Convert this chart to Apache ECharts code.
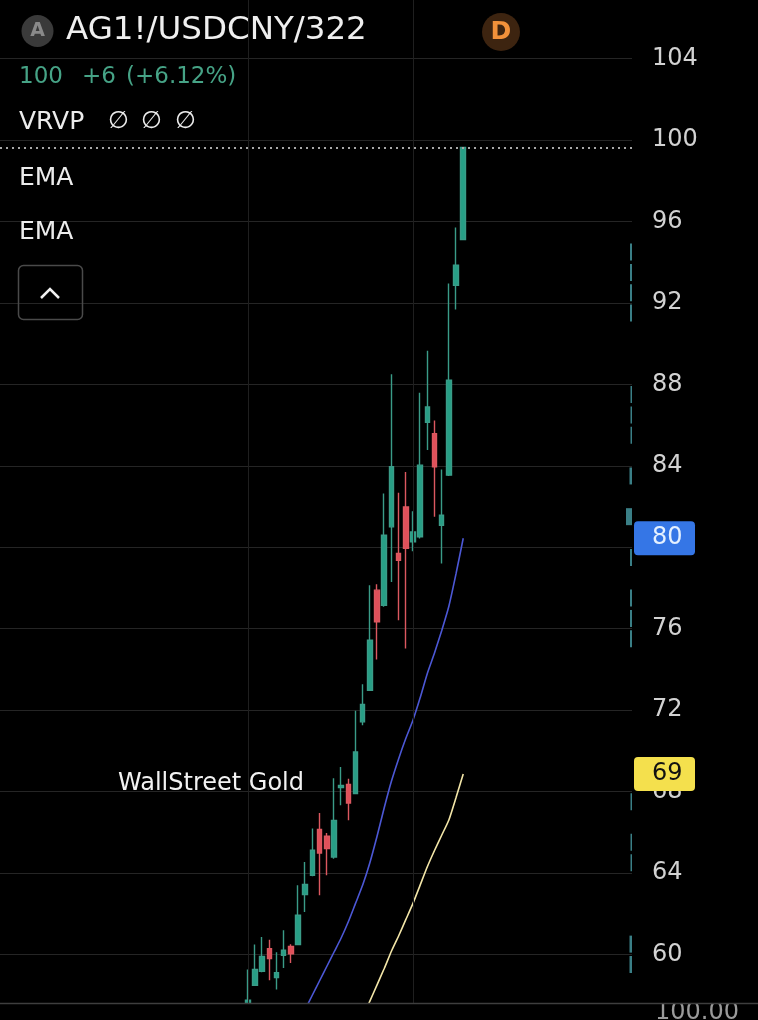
<!DOCTYPE html>
<html>
<head>
<meta charset="utf-8">
<script src="https://cdn.jsdelivr.net/npm/echarts@6/dist/echarts.min.js"></script>
<style>
html,body{margin:0;padding:0;background:#000;}
#chart{width:758px;height:1020px;}
</style>
</head>
<body>
<div id="chart"></div>
<script>
// ---------- DATA ----------
// candles: [open, close, low, high]
const candleOHLC = [
  [57.54, 57.74, 57.30, 59.25],
  [58.48, 59.25, 58.44, 60.48],
  [59.16, 59.90, 59.12, 60.85],
  [60.28, 59.79, 58.72, 60.72],
  [58.86, 59.10, 58.27, 60.10],
  [59.95, 60.20, 59.33, 61.18],
  [60.39, 60.03, 59.57, 60.49],
  [60.48, 61.92, 60.45, 63.39],
  [62.93, 63.43, 62.08, 64.54],
  [63.88, 65.11, 63.83, 66.18],
  [66.13, 64.98, 62.90, 66.94],
  [65.80, 65.19, 63.88, 65.96],
  [64.78, 66.58, 64.70, 68.65],
  [68.19, 68.30, 67.32, 69.20],
  [68.35, 67.43, 66.58, 68.63],
  [67.90, 69.94, 67.86, 71.96],
  [71.42, 72.27, 71.25, 73.27],
  [72.97, 75.43, 72.95, 78.13],
  [77.89, 76.33, 74.48, 78.18],
  [77.15, 80.59, 77.07, 82.64],
  [81.00, 83.95, 78.29, 88.50],
  [79.69, 79.36, 76.41, 82.67],
  [81.98, 79.94, 75.02, 83.69],
  [80.26, 80.75, 79.80, 81.77],
  [80.51, 84.03, 80.43, 87.59],
  [86.14, 86.89, 84.77, 89.65],
  [85.58, 83.95, 81.49, 86.22],
  [81.08, 81.57, 79.20, 83.82],
  [83.54, 88.21, 83.50, 92.96],
  [92.87, 93.86, 91.68, 95.71],
  [95.12, 99.64, 95.10, 99.67]
];
// fast EMA (blue), starting at candle 8
const emaFastStart = 8;
const emaFast = [57.3, 58.0, 58.7, 59.4, 60.1, 60.8, 61.6, 62.5, 63.4, 64.5, 65.8, 67.2,
                 68.5, 69.6, 70.6, 71.5, 72.6, 73.8, 74.8, 75.9, 77.1, 78.7, 80.44];
// slow EMA (yellow), starting at candle 16
const emaSlowStart = 16;
const emaSlow = [56.9, 57.7, 58.5, 59.3, 60.15, 60.9, 61.7, 62.5, 63.4, 64.3, 65.1,
                 65.85, 66.6, 67.7, 68.86];
// volume profile (VRVP) bins: price bin centre and bar length
const vrvpPrice = [59.5, 60.5, 64.5, 65.5, 67.5, 75.5, 76.5, 77.5, 79.5, 81.5, 83.5,
                   85.5, 86.5, 87.5, 91.5, 92.5, 93.5, 94.5];
const vrvpSize  = [2.5, 2.5, 1.5, 1.5, 1.5, 2, 2, 2, 2, 6, 2.5,
                   1.5, 1.5, 1.5, 2, 2, 2, 2];
// price axis
const priceMin = 56, priceMax = 108, priceStep = 4;
// header texts
const symbolText = 'AG1!/USDCNY/322';
const quoteParts = ['100', '+6', '(+6.12%)'];
const watermarkText = 'WallStreet Gold';
const lowerPaneLabel = '100.00';

// ---------- LAYOUT ----------
const slotCount = 88;          // category slots across the plot
const firstSlot = 34;          // slot of the first visible candle
const vGridSlots = [34, 57];   // vertical date gridlines
const GRID_TOP = -22.74, GRID_H = 1058.46, GRID_RIGHT = 126;
const FONT = '"DejaVu Sans", "Noto Sans", sans-serif';

const categories = Array.from({length: slotCount}, (_, i) => 'S' + (i + 1));
const candleData = candleOHLC.map((d, i) => [firstSlot + i, d[0], d[1], d[2], d[3]]);
const fastData = emaFast.map((v, i) => [firstSlot + emaFastStart + i, v]);
const slowData = emaSlow.map((v, i) => [firstSlot + emaSlowStart + i, v]);
const binLabels = [];
for (let p = priceMin; p < priceMax; p += 1) binLabels.push(String(p + 0.5));
const vrvpData = binLabels.map(() => null);
vrvpPrice.forEach((p, i) => { vrvpData[Math.floor(p) - priceMin] = vrvpSize[i]; });
const lastClose = candleOHLC[candleOHLC.length - 1][1];

const chart = echarts.init(document.getElementById('chart'), null, {renderer: 'canvas'});

function txt(id, text, x, y, size, fill, opts) {
  opts = opts || {};
  return {
    type: 'text', id: id, x: x, y: y, z: opts.z || 100,
    style: {
      text: text, fill: fill,
      font: (opts.weight || 'normal') + ' ' + size + 'px ' + FONT,
      align: opts.align || 'left', textAlign: opts.align || 'left',
      verticalAlign: opts.va || 'middle', textVerticalAlign: opts.va || 'middle'
    }
  };
}

const option = {
  backgroundColor: '#000',
  animation: false,
  grid: [
    {left: 0, right: GRID_RIGHT, top: GRID_TOP, height: GRID_H, containLabel: false, outerBoundsMode: 'none'},
    {left: 532, right: GRID_RIGHT, top: GRID_TOP, height: GRID_H, containLabel: false, outerBoundsMode: 'none'}
  ],
  xAxis: [
    {type: 'category', gridIndex: 0, data: categories, boundaryGap: true,
     axisLine: {show: false}, axisTick: {show: false}, axisLabel: {show: false}, splitLine: {show: false}},
    {type: 'value', gridIndex: 1, min: 0, max: 100, inverse: true, show: false}
  ],
  yAxis: [
    {type: 'value', gridIndex: 0, position: 'right', min: priceMin, max: priceMax, interval: priceStep,
     axisLine: {show: false}, axisTick: {show: false},
     axisLabel: {margin: 20, color: '#d2d2d2', fontSize: 24, fontFamily: FONT},
     splitLine: {show: true, lineStyle: {color: '#252525', width: 1}}},
    {type: 'category', gridIndex: 1, data: binLabels, show: false, boundaryGap: true}
  ],
  series: [
    {
      type: 'line', xAxisIndex: 0, yAxisIndex: 0, data: [], z: 1, silent: true,
      markLine: {
        silent: true, symbol: ['none', 'none'], label: {show: false},
        lineStyle: {color: '#1f1f1f', width: 1, type: 'solid'},
        data: vGridSlots.map(s => ({xAxis: s}))
      }
    },
    {
      type: 'bar', xAxisIndex: 1, yAxisIndex: 1, data: vrvpData, barWidth: 17, z: 2,
      itemStyle: {color: '#3a7f86'}
    },
    {
      type: 'candlestick', xAxisIndex: 0, yAxisIndex: 0, data: candleData, z: 3,
      encode: {x: 0, y: [1, 2, 3, 4]},
      barWidth: 5,
      itemStyle: {color: '#279f86', color0: '#e0505a', borderColor: '#3a9c88', borderColor0: '#dc5860', borderWidth: 1.4},
      markLine: {
        silent: true, symbol: ['none', 'none'], label: {show: false},
        lineStyle: {color: '#a8a8a8', width: 2, type: [2, 4]},
        data: [{yAxis: lastClose}]
      }
    },
    {
      type: 'line', xAxisIndex: 0, yAxisIndex: 0, data: fastData, showSymbol: false, smooth: 0.2, z: 4,
      lineStyle: {color: '#4c58d6', width: 1.6}
    },
    {
      type: 'line', xAxisIndex: 0, yAxisIndex: 0, data: slowData, showSymbol: false, smooth: 0.2, z: 4,
      lineStyle: {color: '#f3e6a8', width: 1.6}
    }
  ],
  graphic: [
    {type: 'circle', id: 'aCirc', z: 100, shape: {cx: 37.5, cy: 31, r: 16}, style: {fill: '#3a3a3a'}},
    txt('aTxt', 'A', 37.5, 31, 19, '#8a8a8a', {align: 'center', weight: 'bold'}),
    txt('sym', symbolText, 66, 31, 32.5, '#efefef'),
    {type: 'circle', id: 'dCirc', z: 100, shape: {cx: 501, cy: 32, r: 19}, style: {fill: '#3d2410'}},
    txt('dTxt', 'D', 501, 32, 25, '#f2913a', {align: 'center', weight: 'bold'}),
    txt('q1', quoteParts[0], 19, 77, 23, '#46a386'),
    txt('q2', quoteParts[1], 82, 77, 23, '#46a386'),
    txt('q3', quoteParts[2], 126, 77, 23, '#46a386'),
    txt('vrvp', 'VRVP', 19, 122, 25, '#ececec'),
    txt('o1', '\u2205', 108, 122, 24, '#ececec'),
    txt('o2', '\u2205', 141, 122, 24, '#ececec'),
    txt('o3', '\u2205', 175, 122, 24, '#ececec'),
    txt('ema1', 'EMA', 19, 178, 25, '#ececec'),
    txt('ema2', 'EMA', 19, 232, 25, '#ececec'),
    {type: 'rect', id: 'btn', z: 100, shape: {x: 18.5, y: 265.5, width: 64, height: 54, r: 5},
     style: {fill: 'none', stroke: '#4a4a4a', lineWidth: 1.5}},
    {type: 'polyline', id: 'chev', z: 101, shape: {points: [[41, 298], [50, 289], [59, 298]]},
     style: {fill: 'none', stroke: '#f0f0f0', lineWidth: 2.5}},
    txt('wm', watermarkText, 118, 784, 24, '#f2f2f2'),
    {type: 'rect', id: 'lowMask', z: 110, shape: {x: 0, y: 1004, width: 758, height: 16}, style: {fill: '#000'}},
    txt('lowTxt', lowerPaneLabel, 655, 1013, 24, '#9a9a9a', {z: 112}),
    {type: 'rect', id: 'lowTopMask', z: 113, shape: {x: 640, y: 985, width: 118, height: 19}, style: {fill: '#000'}},
    {type: 'line', id: 'lowLine', z: 114, shape: {x1: 0, y1: 1003.5, x2: 758, y2: 1003.5},
     style: {stroke: '#3e3e3e', lineWidth: 1.5}}
  ]
};
chart.setOption(option);

// price tags on the axis for the last EMA values
const yFast = chart.convertToPixel({yAxisIndex: 0}, emaFast[emaFast.length - 1]);
const ySlow = chart.convertToPixel({yAxisIndex: 0}, emaSlow[emaSlow.length - 1]);
chart.setOption({
  graphic: [
    {type: 'rect', id: 'tagFast', z: 120, shape: {x: 634, y: yFast - 17, width: 61, height: 34, r: 4}, style: {fill: '#3576e6'}},
    txt('tagFastT', String(Math.round(emaFast[emaFast.length - 1])), 652, yFast, 24, '#e4f0ff', {z: 121}),
    {type: 'rect', id: 'tagSlow', z: 120, shape: {x: 634, y: ySlow - 17, width: 61, height: 34, r: 4}, style: {fill: '#f4e04d'}},
    txt('tagSlowT', String(Math.round(emaSlow[emaSlow.length - 1])), 652, ySlow, 24, '#111111', {z: 121})
  ]
});
</script>
</body>
</html>
